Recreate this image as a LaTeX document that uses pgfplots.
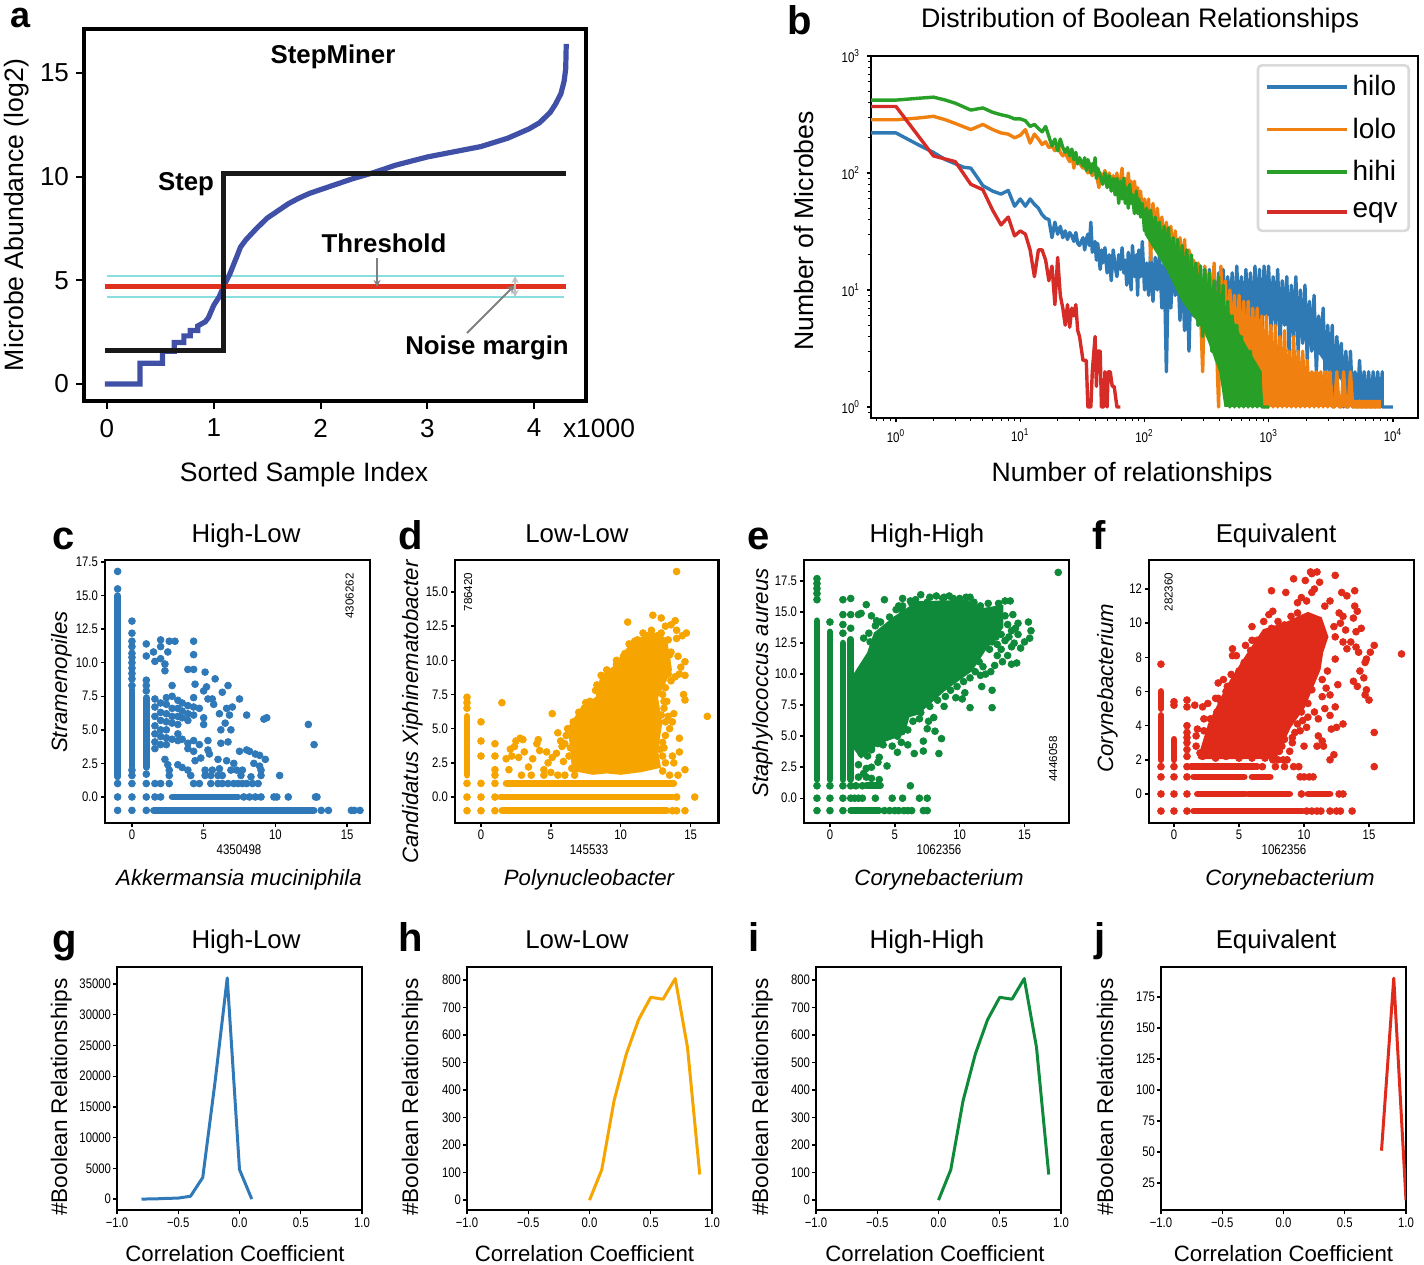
\documentclass[border=0pt]{standalone}
\usepackage{fontspec}
\setmainfont{Liberation Sans}
\newfontfamily\cond[FakeStretch=.82]{Liberation Sans}
\usepackage{pgfplots}
\pgfplotsset{compat=1.18}

\definecolor{cA}{HTML}{3F50A6}
\definecolor{cRed}{HTML}{E0301E}
\definecolor{cCyan}{HTML}{8ADEDE}
\definecolor{bBlue}{HTML}{2F79B5}
\definecolor{bOrange}{HTML}{F08010}
\definecolor{bGreen}{HTML}{28A028}
\definecolor{bRed}{HTML}{D62C28}
\definecolor{sBlue}{HTML}{3079B8}
\definecolor{sOrange}{HTML}{F6A500}
\definecolor{sGreen}{HTML}{0F8A3A}
\definecolor{sRed}{HTML}{E02B1B}

\newcommand\fsz[1]{\fontsize{#1}{#1}\selectfont}
% text placed in pixels of the reference, by its baseline
\newcommand\lbl[4][]{\node[inner sep=0pt,anchor=base,#1] at (#2,#3) {#4};}
\newcommand\panel[3]{\node[inner sep=0pt,anchor=base west,font=\fsz{20}\bfseries] at (#1,#2) {#3};}

\pgfplotsset{
  base/.style={scale only axis, anchor=south west, tick align=outside,
    xtick pos=bottom, ytick pos=left, axis line style={line width=1.2pt},
    major tick style={black,line width=.7pt}, major tick length=2pt,
    tick label style={font=\cond\fsz{6.9}}, unbounded coords=jump},
  scat/.style={base, width=132.5pt, height=131.5pt,
    xticklabel style={yshift=2pt}, yticklabel style={xshift=2pt}},
  corr/.style={base, width=122.5pt, height=121.5pt, xmin=-1, xmax=1,
    scaled y ticks=false, xticklabel style={yshift=1.5pt}, yticklabel style={xshift=2.5pt},
    xtick={-1,-.5,0,.5,1}, xticklabels={−1.0,−0.5,0.0,0.5,1.0}},
  dots/.style={only marks, mark=*, mark size=1.7pt, color=#1},
  rows/.style={no marks, line width=3.4pt, line cap=round, color=#1},
  blob/.style={fill=#1, draw=#1, no marks, line width=1pt},
  curve/.style={no marks, line width=1.5pt, line join=round, color=#1},
  noisy/.style={no marks, line width=1.7pt, line join=round, color=#1},
  under/.style={fill=#1, draw=none, no marks, forget plot},
}

\begin{document}
\begin{tikzpicture}[x=.5pt,y=-.5pt]
\path[use as bounding box] (0,0) rectangle (1424,1264);

% a: StepMiner
\begin{axis}[base, at={(42pt,-200.5pt)}, width=251pt, height=186pt,
  axis line style={line width=1.7pt}, major tick style={black,line width=1pt},
  major tick length=4pt, tick label style={font=\fsz{13}}, xticklabel style={yshift=-1.5pt},
  xmin=-0.215, xmax=4.485, ymin=-0.82, ymax=17.12,
  xtick={0,1,2,3,4}, xticklabels={0,1,2,3,4},
  ytick={0,5,10,15}, yticklabels={0,5,10,15}]
\addplot[no marks,color=cCyan,line width=1pt] coordinates {(0,5.2)(4.28,5.2)};
\addplot[no marks,color=cCyan,line width=1pt] coordinates {(0,4.2)(4.28,4.2)};
\addplot[no marks,color=cA,line width=2.6pt] coordinates {
  (-0.02,0)(0.31,0)(0.31,1)(0.52,1)(0.52,1.58)(0.63,1.58)(0.63,2)(0.72,2)(0.72,2.32)
  (0.78,2.32)(0.78,2.58)(0.85,2.58)(0.85,2.8)(0.92,3)(0.95,3.2)(1.0,3.8)(1.05,4.2)
  (1.1,4.8)(1.15,5.3)(1.22,6.2)(1.25,6.6)(1.3,6.95)(1.4,7.5)(1.5,8.0)(1.6,8.35)(1.7,8.7)(1.8,8.97)(1.9,9.2)
  (2.1,9.55)(2.3,9.9)(2.5,10.2)(2.7,10.55)(3.0,10.95)(3.2,11.15)(3.5,11.45)(3.75,11.85)
  (3.95,12.3)(4.05,12.6)(4.1,12.85)(4.15,13.1)(4.2,13.5)(4.25,14)(4.28,14.6)(4.295,15.2)(4.3,16.4)};
\addplot[no marks,color=cRed,line width=2.6pt] coordinates {(-0.02,4.7)(4.3,4.7)};
\addplot[no marks,color=black!90,line width=2.6pt,line join=miter] coordinates {
  (-0.02,1.6)(1.09,1.6)(1.09,10.15)(4.3,10.15)};
\end{axis}

% b: distribution
\begin{axis}[base, at={(435.5pt,-209pt)}, width=273.5pt, height=181pt,
  xmode=log, ymode=log, log basis x=10, log basis y=10,
  xmin=0.629, xmax=15900, ymin=0.805, ymax=1000,
  tick label style={font=\cond\fsz{7}},
  xtick={1,10,100,1000,10000},
  xticklabels={10\textsuperscript{0},10\textsuperscript{1},10\textsuperscript{2},10\textsuperscript{3},10\textsuperscript{4}},
  ytick={1,10,100,1000},
  yticklabels={10\textsuperscript{0},10\textsuperscript{1},10\textsuperscript{2},10\textsuperscript{3}},
  minor xtick={.7,.8,.9,2,3,4,5,6,7,8,9,20,30,40,50,60,70,80,90,200,300,400,500,600,700,800,900,2000,3000,4000,5000,6000,7000,8000,9000},
  minor ytick={.9,2,3,4,5,6,7,8,9,20,30,40,50,60,70,80,90,200,300,400,500,600,700,800,900},
  minor tick length=1.3pt, minor tick style={black,line width=.5pt},
  legend style={at={(0.9854,0.9779)}, anchor=north east, rounded corners=2pt,
    draw=black!15, line width=1.3pt, font=\fsz{14}, inner xsep=3.5pt, inner ysep=3pt,
    row sep=5.6pt},
  legend image code/.code={\draw[#1,line width=1.9pt](0pt,0pt)--(32pt,0pt);\path(0pt,0pt)--(40pt,0pt);},
  legend cell align=left]
\addplot[under=bBlue] coordinates {(130,17)(200,14)(300,12)(1000,12)(2000,8)(3000,4)(4000,2.8)
  (4000,1.6)(3000,2.2)(2000,4)(1000,6)(300,7)(200,8)(130,14)};
\addplot[noisy=bBlue] coordinates {
 (0.63,220)(1,220)(1.5,175)(2,150)(2.5,130)(3,120)(3.5,112)(4,110)(4.5,92)(5,78)(6,70)(7,66)(8,71)(9,52)(10,60)
 (11,52)(12,60)(13,54)(14,50)(15,44)(16,41)(17,40)(18,28)(19,38)(20,30)(21,35)(22,28)(23,32)(24,27)(25,31)(26,29)
 (27,26)(28,31)(29,25)(30,24)(32,28)(33,22)(34,27)(35,30)(36,24)(37,38)(38,21)(40,26)(41,18)(42,25)(44,15)(45,22)
 (46,17)(48,23)(50,14)(52,20)(54,12)(56,22)(58,16)(60,13)(62,20)(64,15)(66,23)(68,14)(70,18)(72,11)(74,21)(76,15)
 (78,10)(80,24)(83,13)(86,20)(88,9)(90,22)(93,13)(96,26)(100,10)
 (104,17)(108,9)(112,21)(117,8)(122,19)(127,10)(132,20)(138,7)(144,18)(150,2)(156,17)(163,7)(170,20)(177,9)(185,16)
 (193,5.5)(201,18)(210,4.5)(219,15)(228,3)(238,16)(248,6)(259,15)(270,5)(282,16)(294,4)(306,14)(320,6)(333,15)
 (348,7)(363,13)(378,5)(395,14)(412,6)(429,15)(448,4.5)(467,13)(487,6)(508,14)(530,4)(553,16)(577,5)(602,13)(628,4)
 (655,15)(683,5)(712,14)(743,4)(775,16)(808,5)(843,15)(879,4)(917,16)(956,6)(997,16)(1040,4.5)(1085,13)(1131,5)
 (1180,15)(1231,3.5)(1284,12)(1339,5)(1397,13)(1457,3)(1520,11)(1585,4)(1653,13)(1724,3)(1799,10)(1876,3.5)
 (1957,11)(2041,2.5)(2129,8)(2221,3)(2316,9)(2416,2)(2520,6)(2628,3)(2741,7)(2859,1.5)(2982,5)(3111,2)(3245,5)
 (3384,1)(3530,4)(3682,2)(3840,3.5)(4006,1)(4178,3)(4358,1)(4545,3)(4741,1)(4945,2)(5158,1)(5380,2.5)(5612,1)
 (5853,2)(6105,1)(6368,2)(6642,1)(6928,2)(7226,1)(7537,2)(7861,1)(8200,2)(8200,1)(10000,1)};
\addlegendentry{hilo}
\addplot[under=bOrange] coordinates {(800,1)(800,6)(1000,4)(1150,3)(1150,2)(2600,2)(2600,1.15)(8000,1.15)(8000,1)};
\addplot[noisy=bOrange] coordinates {
 (0.63,285)(1,285)(1.5,295)(2,305)(2.5,285)(3,265)(4,235)(5,260)(6,235)(7,220)(8,215)(9,200)(10,210)(11,235)(12,180)
 (13,215)(14,195)(15,175)(16,185)(17,165)(18,170)(19,155)(20,175)(21,150)(22,140)(23,150)(24,135)(25,125)(26,145)
 (27,110)(28,140)(29,120)(30,125)(31,115)(32,110)(33,120)(35,100)(36,115)(38,95)(40,105)(42,85)(43,75)(44,100)
 (46,90)(48,105)(50,85)(52,100)(54,75)(56,95)(58,70)(60,100)(62,60)(64,85)(66,110)(68,65)(70,90)(72,60)(74,100)
 (76,70)(78,85)(80,55)(83,85)(86,60)(88,75)(90,50)(93,70)(96,45)(100,60)
 (104,40)(108,60)(112,18)(117,55)(122,30)(127,50)(132,28)(138,42)(144,22)(150,38)(156,20)(163,35)(170,18)(177,32)
 (185,15)(193,28)(201,14)(210,27)(219,12)(228,22)(238,12)(248,18)(259,9)(270,17)(282,7)(294,2)(306,16)(320,6)
 (333,14)(348,5)(363,17)(378,4)(395,1)(412,16)(429,3)(448,12)(467,2.5)(487,10)(508,3)(530,9)(553,2)(577,9)(602,2)
 (628,8)(655,2)(683,8)(712,1.5)(743,7)(775,2)(808,7)(843,1.5)(879,6)(917,1)(956,6)(997,1)(1040,5)(1085,1)(1131,5)
 (1180,1)(1231,4)(1284,1)(1339,4.5)(1397,1)(1457,3)(1520,1)(1585,4)(1653,1)(1724,3)(1799,1)(1876,3)(1957,1)
 (2041,2.5)(2129,1)(2221,2)(2316,1)(2416,2)(2520,1)(2628,2)(2741,1)(2859,2)(2982,1)(3111,2)(3245,1)(3384,1)
 (3530,2)(3682,1)(3840,1)(4006,2)(4178,1)(4358,1)(4545,2)(4741,1)(8000,1)};
\addlegendentry{lolo}
\addplot[under=bGreen] coordinates {(100,45)(150,30)(200,20)(300,12)(400,9)(500,6)(600,4)(700,3)(880,2)
  (880,1)(440,1)(400,2)(300,4.5)(200,8)(150,15)(100,30)};
\addplot[noisy=bGreen] coordinates {
 (0.63,420)(1,420)(1.5,435)(2,445)(2.5,420)(3,395)(4,345)(5,360)(6,330)(7,315)(8,305)(9,290)(10,290)(11,280)(12,250)
 (13,260)(14,240)(15,225)(16,250)(17,205)(18,170)(19,195)(20,155)(21,195)(22,165)(23,150)(24,165)(25,140)(26,160)
 (27,130)(28,150)(29,120)(30,135)(31,125)(32,115)(33,135)(34,105)(35,130)(36,120)(37,100)(38,120)(39,105)(40,135)
 (41,90)(42,110)(44,95)(46,80)(48,100)(50,75)(52,95)(54,70)(56,90)(58,65)(60,90)(62,55)(64,85)(66,60)(68,90)(70,55)
 (72,75)(74,50)(76,80)(78,55)(80,65)(83,45)(86,70)(88,45)(90,60)(93,42)(96,55)(100,32)
 (104,50)(108,28)(112,48)(117,25)(122,42)(127,22)(132,38)(138,20)(144,35)(150,18)(156,34)(163,15)(170,28)(177,14)
 (185,27)(193,11)(201,24)(210,10)(219,22)(228,8)(238,20)(248,7)(259,17)(270,5)(282,16)(294,4)(306,15)(320,4)
 (333,14)(348,3)(363,12)(378,2.5)(395,13)(412,2)(429,11)(448,1.5)(467,8)(487,1)(508,6)(530,1)(553,5)(577,1)(602,4)
 (628,1)(655,3)(683,1)(712,3)(743,1)(775,2)(808,1)(843,2)(879,1)(917,1)(1000,1)};
\addlegendentry{hihi}
\addplot[noisy=bRed] coordinates {
 (0.63,370)(1,370)(2,140)(3,125)(4,80)(5,72)(6,48)(7,36)(8,42)(9,29)(10,32)(11,30)(12,22)(13,13)(14,22)(15,22)(16,18)
 (17,12)(18,16)(19,7.5)(20,19)(21,9)(22,7)(23,5)(24,7.5)(25,4.8)(26,7)(27,6)(28,7.5)(29,4.5)(30,4)(32,2.5)(34,2.5)
 (35,1)(37,1)(38,2)(40,4)(41,1.5)(42,3)(44,3)(45,1)(47,1)(48,2)(50,1)(51,2)(53,2)(55,1.5)(57,1.5)(60,1)(64,1)};
\addlegendentry{eqv}
\end{axis}

% c: High-Low scatter
\begin{axis}[scat, at={(52.5pt,-411.5pt)}, xmin=-1.88, xmax=16.6, ymin=-1.94, ymax=17.65,
  xtick={0,5,10,15}, xticklabels={0,5,10,15},
  ytick={0,2.5,...,17.5}, yticklabels={0.0,2.5,5.0,7.5,10.0,12.5,15.0,17.5}]
\addplot[rows=sBlue] coordinates {(-1,1.5)(-1,15)(nan,nan)(0,2.3)(0,8)(nan,nan)(1,2.2)(1,7.4)
  (nan,nan)(1.5,-1)(12.7,-1)(nan,nan)(2.8,0)(7.4,0)};
\addplot[dots=sBlue] coordinates {
 (-1,15.5)(-1,16.8)(-1,1)(-1,0)(-1,-1)(0,13.1)(0,12.2)(0,11.6)(0,11.2)(0,10.7)(0,10.4)(0,10)(0,9.6)(0,9.2)(0,8.8)(0,8.3)
 (0,2)(0,1.6)(0,1)(0,0)(0,-1)(1,11.4)(1,10.5)(1,8.7)(1,8.3)(1,7.9)(1,1.7)(1,1)(1,0)(1,-1)
 (13.2,-1)(13.7,-1)(15.3,-1)(15.5,-1)(15.9,-1)(1.6,0)(2,0)(7.8,0)(8.2,0)(8.6,0)(9,0)(9.9,0)(10.1,0)(10.9,0)(12.8,0)(12.9,0)
 (1.6,1)(2,1)(2.6,1)(4.3,1)(4.7,1)(5.5,1)(6,1)(6.3,1)(6.7,1)(7.1,1)(7.4,1)(7.7,1)(8,1)(8.4,1)(8.8,1)
 (1.5,10.8)(1.6,10.1)(2,10.3)(2.3,9.9)(2.3,9.4)(2,11.7)(2,11.2)(2.5,10.8)(2.6,11.6)(3,11.6)(4.3,11.6)(4.3,10.6)(3.9,9.5)
 (4.3,9.5)(5.1,9.3)(5.8,8.8)(6.7,8.3)(5.2,8.2)(4.4,8.4)(2.8,8.3)(5,7.9)(5.3,7.3)(6.3,7.8)(7.5,7.3)(5.6,7.3)(5.7,6.9)
 (6.6,6.6)(7,6.7)(8,6.1)(9.2,5.8)(9.4,5.9)(6.1,6.2)(6.8,6.1)(6.5,5.5)(6.9,5.0)(6.2,5.0)(5,5.9)(5,5.4)(5.3,4.2)(6.2,4.0)
 (6.7,4.1)(5.4,3.2)(5.3,3.5)(7.5,3.4)(8,3.5)(8.2,3.4)(8.6,3.2)(8.9,3.1)(9.3,2.8)(12.3,5.4)(12.7,3.9)(6,2.8)(6.6,2.7)
 (7.1,2.5)(8.5,2.5)(8.9,2.3)(6.1,2.1)(6.9,2)(7.3,2)(7.7,2)(8.3,1.5)(9,2)(9,1.6)(10.3,1.6)(7.6,1.6)
 (1.6,7.3)(1.6,6.7)(1.6,6)(1.6,5.3)(1.6,4.7)(1.6,4.1)(1.6,3.6)(2,7)(2,6.3)(2,5.7)(2,5)(2,4.5)(2,3.9)(2.4,7.4)(2.4,6.9)
 (2.4,6.2)(2.4,5.6)(2.4,5)(2.4,4.4)(2.4,3.9)(2.8,7.5)(2.8,6.6)(2.8,6)(2.8,5.5)(2.8,4.3)(3.2,7.2)(3.2,6.6)(3.2,6)(3.2,5.4)
 (3.2,4.7)(3.2,4.2)(3.5,7)(3.5,6.4)(3.5,5.9)(3.5,4.3)(3.9,6.8)(3.9,6.2)(3.9,5.7)(3.9,4)(3.9,3.6)(4.3,7.4)(4.3,6.7)(4.3,6.1)
 (4.3,4.2)(4.3,3.4)(4.7,6.6)(4.7,3.9)(2.3,2.8)(2.5,2.4)(2.6,2)(2.6,1.6)(3.2,2.4)(3.5,2.2)(3.9,2.0)(4.1,1.6)(4.4,2.7)(4.8,2.9)
 (5.1,2)(5.1,1.6)(5.6,2)(5.5,1.6)(6,1.6)(6.3,1.6)};
\end{axis}

% d: Low-Low scatter
\begin{axis}[scat, at={(227.5pt,-411.5pt)}, width=131.75pt, xmin=-1.86, xmax=17.0, ymin=-1.9, ymax=17.34,
  xtick={0,5,10,15}, xticklabels={0,5,10,15},
  ytick={0,2.5,...,15}, yticklabels={0.0,2.5,5.0,7.5,10.0,12.5,15.0}]
\addplot[blob=sOrange] coordinates {(6.6,1.8)(6.3,5.1)(7.2,6.5)(8.3,7.3)(8.6,8.8)(9.5,9.5)(10.6,11)(12.6,12)(13.25,11.5)
  (13.6,9.3)(12.6,7.3)(12.9,5.4)(12.6,3.4)(12.8,2.2)(11.5,1.9)(10,1.7)(9,1.8)(8,1.7)(7,1.9)(6.6,1.8)};
\addplot[rows=sOrange] coordinates {(-1,1.6)(-1,5.9)(nan,nan)(1.5,-1)(13.3,-1)(nan,nan)(1.4,0)(13.7,0)(nan,nan)(1.8,1)(13.8,1)};
\addplot[dots=sOrange] coordinates {
 (-1,6.5)(-1,6.9)(-1,7.3)(-1,1)(-1,0)(-1,-1)(0,5.5)(0,4.1)(0,3)(0,1)(0,0)(0,-1)(1,3.9)(1,3)(1,2)(1,1.6)(1,1)(1,0)(1,-1)
 (13.7,-1)(14,-1)(14.6,-1)(14,0)(15.3,0)
 (14,16.5)(16.2,5.9)(1.5,6.9)(5.1,6.1)(10.5,12.8)(12.3,13.3)(12.9,13.1)(13.2,12.5)(13.9,12.9)(13.6,12.6)(14,12.2)(14.4,11.8)
 (14,11.6)(14.7,12)(11.6,12.0)(12.2,12.2)(11.9,11.8)(11.2,11.5)(11,11.4)(10.3,10.5)(9.7,10)(9,9.3)(8.6,8.9)(8.5,7.5)(7.5,6.9)
 (12.9,12)(13.4,11.5)(13.6,10.6)(14.1,10.3)(14.6,9.9)(14.3,9.5)(14.6,8.9)(13.9,8.8)(14.2,9)(14.5,7.5)(14.6,7.1)(13.8,6.1)
 (13.4,5.9)(13.7,5.5)(13.5,5)(14.2,4.3)(14.2,3.3)(14.6,2)(13.7,3)(13.8,2.5)(14.1,1.6)(13.5,1.6)
 (13.1,9.5)(13.4,9)(13,7.5)(13.3,7)(13.1,6.5)(13.2,4.5)(13,4)(12.8,3.5)(13,3)(13.2,2.5)(13,1.9)
 (6.4,3.6)(6.2,5)(5.9,2.6)(5.7,4.1)(5.8,3.7)(5.5,4.7)(5.4,3.2)(5.1,2.9)(5,1.8)(4.8,2.5)(4.7,3.3)(4.5,2)(4.2,3.4)
 (4.1,4.2)(4,3.9)(3.7,2.8)(3.6,1.6)(3.4,2.2)(3.1,3.3)(3,4.2)(2.8,4.3)(2.7,2.9)(2.5,4.1)(2.4,3.7)(2.1,3.5)(2,2)(2.2,3)(1.8,2.8)
 (2.9,1.6)(4.5,1.6)(5.5,1.6)(6,1.6)(6.5,2.1)(6.7,1.6)
 (6.6,5.5)(7,6.2)(7.4,6.5)(7.8,7)(8.2,7.8)(8.3,8.2)(9.2,9.1)(9.7,9.7)(10.2,10.3)(10.6,11.2)(11.1,11.2)(11.6,11.5)(12.3,11.8)
 (13,11.2)(13.5,10.4)(13.3,10)(13.6,8.5)(13.2,8)(13.1,7)(12.9,6)(13.2,5.5)(13.1,3.6)(6.9,4.8)(6.1,4.5)(6,3.9)(6.3,3)};
\end{axis}

% e: High-High scatter
\begin{axis}[scat, at={(402pt,-411.5pt)}, xmin=-2.0, xmax=18.43, ymin=-2.0, ymax=19.2,
  xtick={0,5,10,15}, xticklabels={0,5,10,15},
  ytick={0,2.5,...,17.5}, yticklabels={0.0,2.5,5.0,7.5,10.0,12.5,15.0,17.5}]
\addplot[blob=sGreen] coordinates {(1.9,10)(2.94,11.7)(3.46,13.3)(5,14.6)(6.75,15.8)(10.6,15.9)(11.5,15.2)(13.3,15.5)(13.3,13.8)
  (11.9,11.9)(10.9,10.3)(8.8,8.7)(6.75,6.8)(6.06,6.6)(5.7,5.2)(3.66,4.4)(2.4,3.3)(1.9,4)(1.9,10)};
\addplot[rows=sGreen] coordinates {(-1,1.5)(-1,14.3)(nan,nan)(0,1.5)(0,13.4)(nan,nan)(1,1.5)(1,12.5)(nan,nan)(1.6,1.5)(1.6,12.8)
  (nan,nan)(1.6,-1)(3.8,-1)(nan,nan)(2.8,1)(3.9,1)};
\addplot[dots=sGreen] coordinates {
 (-1,16)(-1,16.5)(-1,16.9)(-1,17.3)(-1,17.7)(-1,1)(-1,0)(-1,-1)(0,14.2)(0,1)(0,0)(0,-1)(1,13.3)(1,14)(1,14.8)(1,16)(1,1)(1,0)(1,-1)
 (1.6,13.7)(1.6,14.8)(1.6,16.1)(1.6,1)(1.6,0)(17.6,18.2)
 (4.2,-1)(4.6,-1)(5,-1)(5.3,-1)(5.7,-1)(6,-1)(6.3,-1)(7.2,-1)(7.5,-1)(1.9,0)(2.2,0)(2.5,0)(3.5,0)(4.8,0)(5.6,0)(6.9,0)(7.5,0)
 (2,1)(2.5,1)(6.2,1)
 (2.8,15.6)(2.2,14.8)(2.4,14.9)(3.2,14.7)(3.6,14.3)(4.2,16)(5.3,15.5)(5.6,15.1)(5.6,16.1)(6.3,15.7)(7,16.4)(7.5,15.8)(7.7,16.2)
 (8.2,16.3)(8.8,16.2)(9.5,16.1)(10.5,16.2)(10.8,16.2)(11.3,15.3)(12.2,15.7)(13,15.7)(13.5,15.9)(13.9,15.9)(14.1,14.8)(14.5,14.1)
 (15.3,14.2)(15.5,13.5)(15.4,12.9)(15,12.6)(14.7,12.1)(14.2,12.5)(13.8,13)(13.7,11.5)(14,10.8)(14.4,10.9)(13.2,12)(12.9,11.5)
 (13.3,11)(12.7,10.7)(12.4,10.2)(12,10)(11.6,9.9)(11.7,9)(12.5,8.7)(12.5,7.3)(10.8,7.3)(10.2,8)(10.4,8.5)(9.7,8.1)(8.8,7.4)
 (8,6.5)(7.6,6.2)(7.5,5.6)(8.6,4.8)(8.1,5.4)(7.2,4.6)(6,4.3)(5.5,4.5)(4.8,4.2)(7.2,3.8)(6.5,3.6)(8.4,3.6)(5.2,3.7)(4.4,2.6)
 (3.8,3.3)(3.7,2.9)(3.2,2.5)(2.8,2.4)(2.6,2)(3.2,1.6)(3.8,1.5)(4.1,4.3)(3.2,4)(3.7,4.4)(2.7,4)(2.2,2.7)(2.2,1.7)(2.8,1.7)
 (12.5,14.8)(13,14.2)(13.5,14.7)(13.7,14)(14,13.5)(14.3,13.7)(14.5,13.2)(13.2,13.2)(13.5,12.7)(12.8,13)(12.5,12.6)(12.3,12)(12.9,12.4)
 (14,12.2)(11.5,11)(11.8,10.6)(11.2,10.2)(10.8,9.7)(10.3,9.4)(9.8,9)(9.3,8.7)(8.9,8.2)(8.3,7.9)(7.7,7.4)(7,6.9)(6.4,6.2)(6.9,6.4)
 (6,5.5)(5.2,5)(4.7,5.1)(4.2,5.2)(3.7,4.9)(3.2,3.9)(2.9,3.4)(2.4,3.6)(3.1,12.6)(2.6,12.9)(3,13.3)(3.5,13.9)(3.9,14.2)(4.6,14.6)
 (5.1,15.2)(5.6,15.5)(6.2,15.9)(6.6,16)(8.7,16.1)(9.2,16.3)(10,16.1)(11.1,15.8)(11.6,15.5)};
\end{axis}

% f: Equivalent scatter
\begin{axis}[scat, at={(574.5pt,-411.5pt)}, xmin=-1.92, xmax=18.46, ymin=-1.70, ymax=13.7,
  xtick={0,5,10,15}, xticklabels={0,5,10,15},
  ytick={0,2,...,12}, yticklabels={0,2,4,6,8,10,12}]
\addplot[blob=sRed] coordinates {(1.9,2.1)(2.7,4.1)(4.1,6.3)(5.5,8)(6.9,9.6)(8.6,10)(10.3,10.6)(11.3,10.3)(11.8,9.2)(11.4,8.3)(11.2,7.3)
  (10,5.1)(8.9,3.9)(7.8,2.1)(1.9,2.1)};
\addplot[rows=sRed] coordinates {(-1,2)(-1,4.6)(nan,nan)(-1,5)(-1,6)(nan,nan)(0,2)(0,3.2)(nan,nan)(1.5,-1)(9.9,-1)
  (nan,nan)(1.8,0)(5.5,0)(nan,nan)(5.7,0)(8.9,0)(nan,nan)(10.3,0)(12,0)(nan,nan)(1.5,1)(5.4,1)(nan,nan)(6,1)(7.4,1)
  (nan,nan)(1.3,1.6)(6.4,1.6)};
\addplot[dots=sRed] coordinates {
 (-1,7.6)(-1,1.6)(-1,1)(-1,0)(-1,-1)(0,5.4)(0,5.2)(0,1.6)(0,1)(0,0)(0,-1)
 (1,5.5)(1,5.1)(1,4)(1,3.6)(1,3.3)(1,3)(1,2.6)(1,2.2)(1,1.6)(1,1)(1,0)(1,-1)
 (10.2,-1)(10.6,-1)(11,-1)(11.3,-1)(12,-1)(12.5,-1)(12.8,-1)(13.7,-1)(9.8,0)(12.7,0)(13,0)(9.7,1)(10,1)(10.4,1)(10.7,1)
 (6.8,1.6)(7.8,1.6)(8.5,1.6)(9.2,1.6)(9.6,1.6)(7.6,2)(8,2)(8.4,2)(8.7,2)(1.6,5.2)(2.2,5.1)(2.6,5.3)(2.3,4.4)(1.8,3.8)(1.7,3.4)(1.7,2.8)(2,2.4)
 (3.2,5.6)(3.4,6.5)(3.8,6.7)(4.4,7)(4.1,6.3)(4.5,8.1)(4.8,8.1)(4.5,8.5)(5.4,7.7)(5.5,8.7)(6,9)(6,9.8)(6.5,8.9)(6.9,10.1)
 (7.3,10.5)(7.6,10.7)(7.5,11.9)(8.6,11.8)(9.2,12.6)(9.5,11.2)(9.8,11.5)(10.1,12.5)(10.6,12.9)(10.5,13)(11,13)(11.2,12.4)(10.8,12)
 (10.6,11.8)(12.4,12.8)(12.9,11.8)(13.3,11.6)(13.9,11.9)(13.9,11)(14.1,10.7)(13.8,10.3)(13,10.4)(12.8,10)(12.3,9.8)(12.4,9.2)
 (13.2,9.6)(14,9.5)(14.4,9.7)(13.6,8.9)(14,8.6)(14.2,8.3)(15.1,8.3)(15.4,8.7)(17.5,8.2)(14.8,7.9)(14.7,7.7)(14.3,7.2)(14.6,6.8)
 (13.8,6.6)(14.1,6.3)(14.8,6.1)(14.7,5.8)(15,5.5)(15.4,3.6)(15.4,1.6)(12.6,6.4)(12,5.8)(11.7,6.2)(11.4,5.7)(11.6,5)(12.4,5.1)
 (12,4.6)(11.1,4.4)(10.8,4.8)(10.3,4.5)(9.9,4.3)(10.2,3.9)(9.7,3.7)(9.3,3.6)(9.1,3)(10,2.8)(11,2.8)(11.1,3.4)(11.4,3.1)(11.5,2.8)
 (12.1,3.8)(12.5,3.9)(13,4.1)(12,2)(12.3,2.3)(8.9,2.5)(8.3,2.8)
 (2.3,3.7)(2.8,4.4)(2.5,2.8)(2.9,3.2)(3.3,4.8)(3.6,5.4)(4,6)(3.4,5.6)(4.6,6.6)(5,7.2)(5.4,7.6)(5.9,8.4)(6.4,9)(6.6,8.6)(7.1,9.3)
 (7.5,9.7)(8,10.1)(8.5,9.9)(9,10.4)(9.5,10.6)(10.2,11.3)(11.6,11)(12,11.3)(12.7,10.6)(13.3,8.5)(13,8.9)(12.4,7.9)(11.8,7.2)(11.4,6.7)
 (10.6,6.1)(10.3,5.3)(9.8,4.8)(9.5,4.1)(9.1,3.3)(8.5,3.2)(8.1,2.5)(7.7,2.4)(3.2,2.1)(2.2,2.2)(5,2.1)(6,2.1)(7,2.1)(2.9,2.3)(4,2.2)};
\end{axis}

% g-j: correlation curves
\begin{axis}[corr, at={(58.5pt,-605pt)}, ymin=-1790, ymax=37780,
  ytick={0,5000,...,35000}, yticklabels={0,5000,10000,15000,20000,25000,30000,35000}]
\addplot[curve=sBlue] coordinates {(-0.8,0)(-0.7,10)(-0.6,100)(-0.5,150)(-0.4,450)(-0.3,3500)(-0.2,19000)(-0.1,36000)(0,4800)(0.1,0)};
\end{axis}
\begin{axis}[corr, at={(233.5pt,-605pt)}, ymin=-36, ymax=847,
  ytick={0,100,...,800}, yticklabels={0,100,200,300,400,500,600,700,800}]
\addplot[curve=sOrange] coordinates {(0,0)(0.1,110)(0.2,360)(0.3,530)(0.4,655)(0.5,737)(0.6,730)(0.7,805)(0.8,555)(0.9,93)};
\end{axis}
\begin{axis}[corr, at={(408pt,-605pt)}, ymin=-36, ymax=847,
  ytick={0,100,...,800}, yticklabels={0,100,200,300,400,500,600,700,800}]
\addplot[curve=sGreen] coordinates {(0,0)(0.1,110)(0.2,360)(0.3,530)(0.4,655)(0.5,737)(0.6,730)(0.7,805)(0.8,555)(0.9,93)};
\end{axis}
\begin{axis}[corr, at={(580.5pt,-605pt)}, ymin=3.2, ymax=199,
  ytick={25,50,...,175}, yticklabels={25,50,75,100,125,150,175}]
\addplot[curve=sRed] coordinates {(0.8,51)(0.9,190)(1.0,11)};
\end{axis}

% panel letters
\node[inner sep=0pt,anchor=base west,font=\fsz{18}\bfseries] at (10,27) {a};
\panel{787}{34}{b}
\panel{52}{549}{c}\panel{398}{549}{d}\panel{747}{549}{e}\panel{1092}{549}{f}
\panel{52}{952}{g}\panel{398}{951}{h}\panel{748}{951}{i}\panel{1094}{951}{j}

% a: text and arrows
\lbl{304}{481.5}{\fsz{13.3}Sorted Sample Index}
\lbl[rotate=90]{24}{215}{\fsz{13.3}Microbe Abundance (log2)}
\lbl{599}{437}{\fsz{13.2}x1000}
\lbl{333}{63}{\fsz{12.9}\bfseries StepMiner}
\lbl{186}{190}{\fsz{12.9}\bfseries Step}
\lbl{384}{252}{\fsz{12.9}\bfseries Threshold}
\lbl{487}{354}{\fsz{12.9}\bfseries Noise margin}
\draw[gray,line width=.6pt,-stealth] (377,258)--(377,287);
\draw[gray,line width=.9pt,-stealth] (467,333)--(515,285);
\draw[black!25,line width=.6pt,stealth-stealth] (515,276)--(515,297);

% b: text
\lbl{1140}{27}{\fsz{13.4}Distribution of Boolean Relationships}
\lbl{1132}{481}{\fsz{13.3}Number of relationships}
\lbl[rotate=90]{813}{231}{\fsz{13.3}Number of Microbes}

% row 2 text
\lbl{246}{542}{\fsz{12.9}High-Low}\lbl{577}{542}{\fsz{12.9}Low-Low}
\lbl{927}{542}{\fsz{12.9}High-High}\lbl{1276}{542}{\fsz{12.9}Equivalent}
\lbl{239}{854}{\cond\fsz{7}4350498}\lbl{589}{854}{\cond\fsz{7}145533}
\lbl{939}{854}{\cond\fsz{7}1062356}\lbl{1284}{854}{\cond\fsz{7}1062356}
\lbl{239}{885}{\fsz{11.1}\itshape Akkermansia muciniphila}
\lbl{589}{885}{\fsz{11.1}\itshape Polynucleobacter}
\lbl{939}{885}{\fsz{11.1}\itshape Corynebacterium}
\lbl{1290}{885}{\fsz{11.1}\itshape Corynebacterium}
\lbl[rotate=90]{67}{682}{\fsz{11.1}\itshape Stramenopiles}
\lbl[rotate=90]{418}{712}{\fsz{11.1}\itshape Candidatus Xiphinematobacter}
\lbl[rotate=90]{768}{683}{\fsz{11.1}\itshape Staphylococcus aureus}
\lbl[rotate=90]{1113}{688}{\fsz{11.1}\itshape Corynebacterium}
\lbl[rotate=90]{353.5}{596}{\fsz{5.8}4306262}
\lbl[rotate=90]{472}{592}{\fsz{5.8}786420}
\lbl[rotate=90]{1057}{759}{\fsz{5.8}4446058}
\lbl[rotate=90]{1172.5}{592}{\fsz{5.8}282360}

% row 3 text
\lbl{246}{948}{\fsz{12.9}High-Low}\lbl{577}{948}{\fsz{12.9}Low-Low}
\lbl{927}{948}{\fsz{12.9}High-High}\lbl{1276}{948}{\fsz{12.9}Equivalent}
\lbl{235}{1261}{\fsz{11.1}Correlation Coefficient}
\lbl{584.5}{1261}{\fsz{11.1}Correlation Coefficient}
\lbl{935}{1261}{\fsz{11.1}Correlation Coefficient}
\lbl{1283.5}{1261}{\fsz{11.1}Correlation Coefficient}
\lbl[rotate=90]{67}{1097}{\fsz{11.3}\#Boolean Relationships}
\lbl[rotate=90]{418}{1097}{\fsz{11.3}\#Boolean Relationships}
\lbl[rotate=90]{768}{1097}{\fsz{11.3}\#Boolean Relationships}
\lbl[rotate=90]{1113}{1097}{\fsz{11.3}\#Boolean Relationships}
\end{tikzpicture}
\end{document}
